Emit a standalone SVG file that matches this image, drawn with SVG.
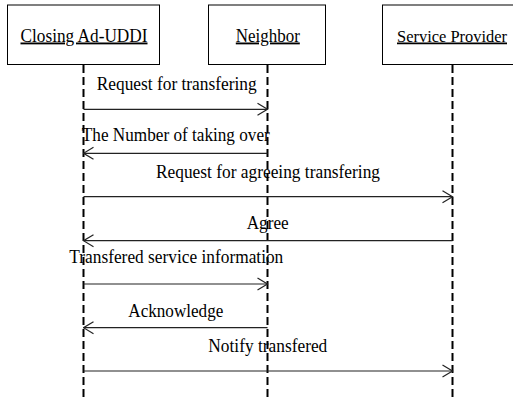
<svg xmlns="http://www.w3.org/2000/svg" width="513" height="399" viewBox="0 0 513 399">
<style>
.box{fill:#fff;stroke:#000;stroke-width:1}
.t{font-family:"Liberation Serif","Times New Roman",serif;font-size:18.5px;fill:#000;text-anchor:middle}
.u{text-decoration:underline}
.life{stroke:#000;stroke-width:2;stroke-dasharray:8 4;fill:none}
.msg{stroke:#222;stroke-width:1.2;fill:none}
</style>
<defs>
<marker id="open" viewBox="0 0 12 14" refX="11" refY="7" markerWidth="12" markerHeight="14" markerUnits="userSpaceOnUse" orient="auto">
<path d="M1,1 L11,7 L1,13" fill="none" stroke="#222" stroke-width="1.2"/>
</marker>
</defs>
<rect width="513" height="399" fill="#fff"/>
<g id="closing">
<rect class="box" x="7.5" y="5" width="152" height="59.5"/>
<line class="life" x1="83.5" y1="65" x2="83.5" y2="399"/>
<text class="t u" x="84" y="41.5" textLength="127" lengthAdjust="spacingAndGlyphs">Closing Ad-UDDI</text>
</g>
<g id="neighbor">
<rect class="box" x="208.5" y="5" width="117" height="59.5"/>
<line class="life" x1="267.5" y1="65" x2="267.5" y2="399"/>
<text class="t u" x="267.8" y="41.5" textLength="64" lengthAdjust="spacingAndGlyphs">Neighbor</text>
</g>
<g id="provider">
<rect class="box" x="382.5" y="5" width="131.5" height="59.5"/>
<line class="life" x1="452.5" y1="65" x2="452.5" y2="399"/>
<text class="t u" x="452" y="41.5" style="font-size:17.5px" textLength="110" lengthAdjust="spacingAndGlyphs">Service Provider</text>
</g>
<g id="connectors">
<line class="msg" x1="83.5" y1="109.3" x2="267.5" y2="109.3" marker-end="url(#open)"/>
<text class="t" x="176.7" y="90" textLength="160" lengthAdjust="spacingAndGlyphs">Request for transfering</text>
<line class="msg" x1="267.5" y1="153.3" x2="83.5" y2="153.3" marker-end="url(#open)"/>
<text class="t" x="175.8" y="141" textLength="188" lengthAdjust="spacingAndGlyphs">The Number of taking over</text>
<line class="msg" x1="83.5" y1="196.7" x2="452.5" y2="196.7" marker-end="url(#open)"/>
<text class="t" x="268" y="177.7" textLength="224" lengthAdjust="spacingAndGlyphs">Request for agreeing transfering</text>
<line class="msg" x1="452.5" y1="240.7" x2="83.5" y2="240.7" marker-end="url(#open)"/>
<text class="t" x="267.7" y="229" textLength="42" lengthAdjust="spacingAndGlyphs">Agree</text>
<line class="msg" x1="83.5" y1="284" x2="267.5" y2="284" marker-end="url(#open)"/>
<text class="t" x="176.3" y="263" textLength="214" lengthAdjust="spacingAndGlyphs">Transfered service information</text>
<line class="msg" x1="267.5" y1="327.7" x2="83.5" y2="327.7" marker-end="url(#open)"/>
<text class="t" x="175.8" y="316.7" textLength="95" lengthAdjust="spacingAndGlyphs">Acknowledge</text>
<line class="msg" x1="83.5" y1="371" x2="452.5" y2="371" marker-end="url(#open)"/>
<text class="t" x="267.8" y="351.7" textLength="119" lengthAdjust="spacingAndGlyphs">Notify transfered</text>
</g>
</svg>
